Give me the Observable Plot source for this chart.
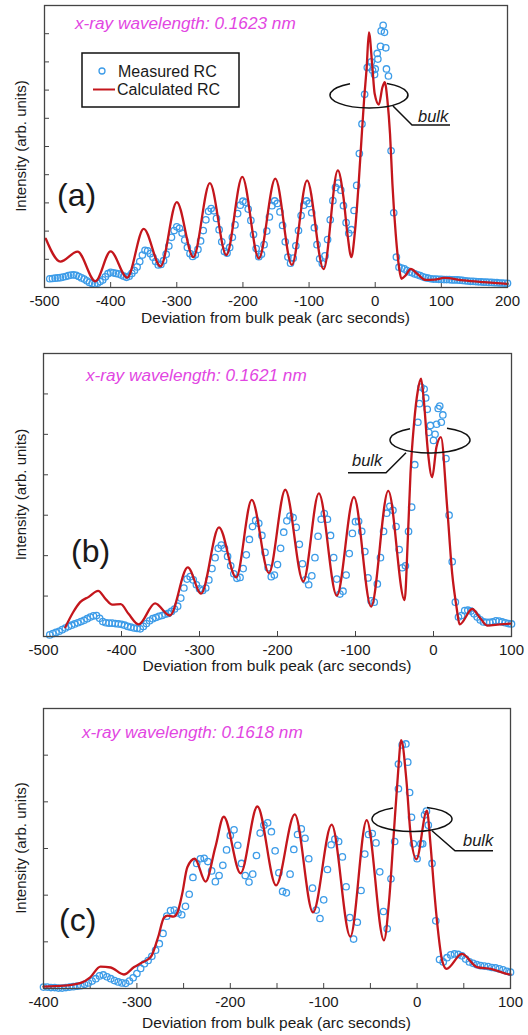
<!DOCTYPE html>
<html><head><meta charset="utf-8">
<script src="https://cdn.jsdelivr.net/npm/d3@7"></script>
<script src="https://cdn.jsdelivr.net/npm/@observablehq/plot@0.6"></script>
<style>
body{margin:0;background:#fff}
#chart{width:528px}
#chart svg{display:block}
</style>
</head><body><div id="chart"></div>
<script>
// ---------------- DATA ----------------
// Panel (a) — x-ray wavelength 0.1623 nm
const measA_start = -492, measA_step = 4;
const measA_y = [0.31,0.32,0.33,0.34,0.35,0.37,0.39,0.42,0.44,0.45,0.43,0.39,0.34,0.30,0.24,0.18,0.14,0.12,0.15,0.21,
0.27,0.38,0.49,0.54,0.52,0.50,0.48,0.44,0.40,0.36,0.40,0.50,0.60,0.73,0.92,1.15,1.32,1.30,1.20,1.07,
0.92,0.80,0.82,0.95,1.18,1.47,1.78,2.02,2.15,2.10,1.93,1.68,1.42,1.20,1.10,1.16,1.35,1.65,2.02,2.40,
2.70,2.80,2.72,2.45,2.05,1.62,1.28,1.22,1.42,1.78,2.22,2.62,2.92,3.06,3.02,2.78,2.38,1.88,1.38,1.09,
1.18,1.52,2.00,2.50,2.90,3.07,2.98,2.68,2.20,1.62,1.08,0.86,1.04,1.48,2.02,2.55,2.92,3.07,2.98,2.65,
2.12,1.52,1.02,0.85,1.12,1.70,2.40,3.08,3.55,3.70,3.45,2.90,2.30,1.92,2.05,2.73,3.62,4.75,5.80,6.85,
7.80,7.82,7.70,7.75,8.10,8.55,9.30,8.50,7.50,4.85,2.65,1.08,0.72,0.69,0.66,0.60,0.55,0.52,0.48,0.45,
0.42,0.38,0.35,0.33,0.31,0.30,0.30,0.29,0.29,0.28,0.28,0.28,0.27,0.27,0.27,0.26,0.25,0.24,0.23,0.22,
0.22,0.21,0.20,0.20,0.19,0.19,0.18,0.18,0.17,0.17,0.16,0.16,0.15,0.15];
const measA_extraX = [-6, -1, 3, 9, 14, 17];
const measA_extraY = [8.0, 7.55, 8.3, 9.1, 9.05, 7.75];
const calcA_x = [-498,-476,-450,-423,-400,-375,-350,-324.5,-300,-275,-250,-225,-201,-176,-151,-126,-103,-78,-56.5,-48,-42,-36,-31,-25.4,-20.9,-16.9,-12.9,-9.5,-4.3,-0.8,5.5,10.9,14.4,18.5,22.4,26,31,36,39.6,46,53.7,63.8,76.4,90,104,134,164,200];
const calcA_y = [1.73,0.92,1.27,0.22,1.28,0.35,2.08,0.75,3.03,1.08,3.70,1.15,3.92,1.03,3.86,0.80,3.80,0.65,4.15,3.2,1.9,1.08,1.9,3.56,5.21,6.63,7.81,9.05,7.81,6.87,6.49,7.1,7.28,6.63,5.45,3.68,1.9,0.72,0.31,0.43,0.66,0.48,0.27,0.28,0.34,0.25,0.19,0.13];
const ticksA_x = [-500,-400,-300,-200,-100,0,100,200];
const ticksA_y = [1,2,3,4,5,6,7,8,9];

// Panel (b) — x-ray wavelength 0.1621 nm
const measB_start = -492, measB_step = 4;
const measB_y = [0.04,0.07,0.10,0.13,0.17,0.21,0.25,0.28,0.31,0.34,0.37,0.40,0.44,0.48,0.51,0.52,0.45,0.37,0.34,0.33,
0.33,0.32,0.31,0.30,0.28,0.25,0.23,0.21,0.20,0.19,0.25,0.32,0.39,0.44,0.47,0.50,0.52,0.55,0.57,0.62,
0.68,0.75,0.95,1.20,1.42,1.48,1.40,1.28,1.18,1.14,1.20,1.40,1.68,1.95,2.18,2.26,2.18,1.98,1.75,1.55,
1.44,1.46,1.68,2.02,2.40,2.72,2.87,2.80,2.50,2.08,1.70,1.48,1.52,1.78,2.18,2.58,2.86,2.98,2.94,2.70,
2.28,1.80,1.40,1.28,1.50,1.95,2.48,2.90,3.04,2.90,2.50,1.95,1.42,1.05,1.12,1.52,2.05,2.55,2.84,2.85,
2.60,2.10,1.45,0.88,0.85,1.30,1.95,2.60,3.05,3.22,3.12,2.72,2.15,1.70,1.75,2.60,3.20,4.25,5.30,6.17,
6.12,5.62,5.22,4.85,5.25,5.70,5.48,4.40,3.00,1.85,0.85,0.48,0.52,0.64,0.65,0.63,0.56,0.48,0.41,0.36,
0.35,0.35,0.36,0.39,0.38,0.36,0.34,0.32,0.31];
const measB_extraX = [-18, -10, -6, 2, 6, 10];
const measB_extraY = [5.76, 5.9, 5.05, 5.0, 5.64, 5.3];
const calcB_x = [-472,-462,-453,-442,-430,-420,-412,-401,-391,-378,-357,-338,-315,-298,-275,-253,-233,-211,-190,-167,-147,-124,-102,-80,-58,-37,-33,-29.5,-25,-20,-16,-12.4,-7.3,-1.7,3.8,9.5,17.5,24,29.5,33.5,49.6,60,69,85,99];
const calcB_y = [0.23,0.6,0.85,0.98,1.13,0.92,0.79,0.80,0.56,0.30,0.82,0.52,1.71,1.06,2.70,1.46,3.38,1.57,3.63,1.36,3.54,1.01,3.45,0.74,3.60,0.90,2.38,4.03,5.26,6.09,6.38,5.84,4.6,3.94,4.69,4.93,3.2,1.55,0.73,0.30,0.68,0.45,0.27,0.30,0.32];
const ticksB_x = [-500,-400,-300,-200,-100,0,100];
const ticksB_y = [1,2,3,4,5,6];

// Panel (c) — x-ray wavelength 0.1618 nm
const measC_start = -400, measC_step = 4;
const measC_y = [0.03,0.03,0.02,0.02,0.01,0.01,0.02,0.03,0.04,0.05,0.06,0.09,0.12,0.16,0.21,0.27,0.29,0.25,0.21,0.17,
0.14,0.12,0.11,0.16,0.23,0.32,0.43,0.53,0.60,0.69,0.82,0.96,1.18,1.55,1.67,1.68,1.62,1.58,1.76,2.02,
2.38,2.68,2.78,2.79,2.72,2.52,2.29,2.42,2.64,2.97,3.28,3.40,3.07,2.68,2.42,2.28,2.45,2.85,3.33,3.50,
3.55,3.36,2.95,2.48,2.08,2.05,2.45,2.98,3.30,3.42,3.22,2.78,2.15,1.68,1.50,1.90,2.55,3.08,3.20,3.15,
2.82,2.18,1.52,1.06,1.42,2.10,2.88,3.30,3.32,3.12,2.50,1.65,1.28,2.35,3.15,4.28,5.22,5.24,4.20,3.10,
2.78,3.10,3.72,3.50,2.68,1.45,0.62,0.57,0.66,0.72,0.74,0.73,0.70,0.63,0.57,0.54,0.51,0.49,0.48,0.47,
0.45,0.44,0.42,0.40,0.37,0.35];
const measC_extraX = [-20, -10, -6, 6, 10];
const measC_extraY = [4.81, 4.85, 3.67, 3.1, 3.8];
const calcC_x = [-400,-378,-360,-350,-339,-328,-314,-303,-296,-285,-277,-271,-267,-261,-257,-251.5,-246,-238,-226.5,-216,-207,-189,-171,-151,-131,-111.5,-91.5,-71.5,-54,-35.5,-30,-25,-21,-17,-11.4,-7,-0.7,10.5,14.3,18,22,26.8,31.5,48,64,79,97,100];
const calcC_y = [0.04,0.06,0.12,0.24,0.47,0.45,0.30,0.46,0.54,0.68,1.12,1.52,1.56,1.54,1.61,2.03,2.60,2.78,2.29,3.03,3.68,2.47,3.90,2.21,3.73,1.63,3.51,1.11,3.61,1.03,1.88,3.31,4.45,5.32,4.45,3.31,2.77,3.81,3.10,2.17,1.31,0.6,0.42,0.74,0.46,0.42,0.31,0.30];
const ticksC_x = [-400,-300,-200,-100,0,100];
const ticksC_xMinor = [-350,-300,-250,-200,-150,-100,-50,0,50];
const ticksC_y = [1,2,3,4,5];

const wavelengths = ["x-ray wavelength: 0.1623 nm","x-ray wavelength: 0.1621 nm","x-ray wavelength: 0.1618 nm"];
const panelLetters = ["(a)","(b)","(c)"];
const seriesNames = ["Measured RC","Calculated RC"];
const xTitle = "Deviation from bulk peak (arc seconds)";
const yTitle = "Intensity (arb. units)";

// ---------------- DRAWING ----------------
const FONT = "'Liberation Sans', Arial, Helvetica, sans-serif";
const BLUE = "#3d9ce8", RED = "#c4161c", INK = "#1a1a1a";

function rows(xs, ys){ return xs.map((x,i)=>({x, y: ys[i]})); }
function gridRows(start, step, ys){ return ys.map((y,i)=>({x: start + i*step, y})); }

function panel(cfg){
  const W = 528;
  const innerH = cfg.height - cfg.mt - cfg.mb;
  const innerW = W - cfg.ml - cfg.mr;
  const meas = gridRows(cfg.mStart, cfg.mStep, cfg.mY).concat(rows(cfg.eX, cfg.eY));
  const calc = rows(cfg.cX, cfg.cY);
  const plot = Plot.plot({
    width: W, height: cfg.height,
    marginTop: cfg.mt, marginBottom: cfg.mb, marginLeft: cfg.ml, marginRight: cfg.mr,
    style: {fontFamily: FONT, fontSize: "15px", color: INK, background: "#fff", overflow: "visible"},
    x: {domain: cfg.xDomain, ticks: cfg.xTicks, tickSize: 0, tickPadding: 8, tickFormat: d => String(d), label: null},
    y: {domain: cfg.yDomain, axis: null},
    marks: [
      Plot.ruleX(cfg.xTicksIn, {x: d => d, insetTop: innerH - 5, stroke: "#444", strokeWidth: 1}),
      Plot.ruleY(cfg.yTicks, {y: d => d, insetRight: innerW - 5, stroke: "#444", strokeWidth: 1}),
      Plot.dot(meas, {x: "x", y: "y", r: 3.2, stroke: BLUE, strokeWidth: 1.3, fill: "none"}),
      Plot.line(calc, {x: "x", y: "y", stroke: RED, strokeWidth: 2.3, curve: "monotone-x"}),
      Plot.frame({stroke: "#444", strokeWidth: 1.3})
    ]
  });
  const svg = d3.select(plot);
  const g = svg.append("g").attr("font-family", FONT).attr("fill", INK).attr("text-anchor", "start");
  // axis titles
  g.append("text").attr("x", cfg.ml + innerW/2).attr("y", cfg.height - cfg.mb + cfg.xTitleDy)
    .attr("text-anchor", "middle").attr("font-size", 15.5).text(xTitle);
  g.append("text").attr("transform", `translate(21,${cfg.mt + innerH/2}) rotate(-90)`)
    .attr("text-anchor", "middle").attr("dy", "0.35em").attr("font-size", 15).text(yTitle);
  // panel letter
  g.append("text").attr("x", cfg.letter[0]).attr("y", cfg.letter[1]).attr("font-size", 32).text(cfg.letterText);
  // wavelength
  g.append("text").attr("x", cfg.wave[0]).attr("y", cfg.wave[1]).attr("font-size", 17.2)
    .attr("font-style", "italic").attr("fill", "#e246e2").text(cfg.waveText);
  // bulk annotation
  const e = cfg.ell;
  const yAt = x => e.cy - e.ry*Math.sqrt(Math.max(0, 1 - ((x - e.cx)/e.rx)**2));
  g.append("path").attr("d", `M${e.g0},${yAt(e.g0)} A${e.rx},${e.ry} 0 1 0 ${e.g1},${yAt(e.g1)}`)
    .attr("fill", "none").attr("stroke", "#111").attr("stroke-width", 1.5);
  g.append("path").attr("d", "M" + cfg.leader.map(p => p.join(",")).join(" L"))
    .attr("fill", "none").attr("stroke", "#111").attr("stroke-width", 1.5);
  g.append("text").attr("x", cfg.bulk[0]).attr("y", cfg.bulk[1]).attr("font-size", 16.5)
    .attr("font-style", "italic").text("bulk");
  if (cfg.legend) {
    const L = g.append("g");
    L.append("rect").attr("x", 82).attr("y", 53).attr("width", 157).attr("height", 54)
      .attr("fill", "#fff").attr("stroke", "#111").attr("stroke-width", 1.5);
    L.append("circle").attr("cx", 102).attr("cy", 71).attr("r", 3).attr("fill", "none")
      .attr("stroke", BLUE).attr("stroke-width", 1.3);
    L.append("text").attr("x", 118).attr("y", 76.5).attr("font-size", 16).text(seriesNames[0]);
    L.append("line").attr("x1", 93).attr("x2", 115).attr("y1", 89.5).attr("y2", 89.5)
      .attr("stroke", RED).attr("stroke-width", 2);
    L.append("text").attr("x", 117).attr("y", 95).attr("font-size", 16).text(seriesNames[1]);
  }
  return plot;
}

const root = document.getElementById("chart");
root.append(panel({
  height: 330, mt: 5, mb: 43, ml: 44, mr: 21,
  xDomain: [-500, 200], yDomain: [0, 10],
  xTicks: ticksA_x, xTicksIn: ticksA_x.slice(1, -1), yTicks: ticksA_y,
  mStart: measA_start, mStep: measA_step, mY: measA_y, eX: measA_extraX, eY: measA_extraY,
  cX: calcA_x, cY: calcA_y, xTitleDy: 36,
  letter: [57, 206], letterText: panelLetters[0],
  wave: [75, 29], waveText: wavelengths[0],
  ell: {cx: 369, cy: 95, rx: 39, ry: 13, g0: 350, g1: 387},
  leader: [[393, 106], [412, 125], [450, 125]],
  bulk: [418, 121.5],
  legend: true
}));
root.append(panel({
  height: 350, mt: 23, mb: 44, ml: 43, mr: 17,
  xDomain: [-500, 100], yDomain: [0, 7],
  xTicks: ticksB_x, xTicksIn: ticksB_x.slice(1, -1), yTicks: ticksB_y,
  mStart: measB_start, mStep: measB_step, mY: measB_y, eX: measB_extraX, eY: measB_extraY,
  cX: calcB_x, cY: calcB_y, xTitleDy: 35,
  letter: [71, 232], letterText: panelLetters[1],
  wave: [86, 51], waveText: wavelengths[1],
  ell: {cx: 430, cy: 110, rx: 40, ry: 13, g0: 410, g1: 447},
  leader: [[406, 122.7], [386, 142.7], [348, 142.7]],
  bulk: [352, 136],
  legend: false
}));
root.append(panel({
  height: 355, mt: 28, mb: 47, ml: 43, mr: 18,
  xDomain: [-400, 100], yDomain: [0, 6],
  xTicks: ticksC_x, xTicksIn: ticksC_xMinor, yTicks: ticksC_y,
  mStart: measC_start, mStep: measC_step, mY: measC_y, eX: measC_extraX, eY: measC_extraY,
  cX: calcC_x, cY: calcC_y, xTitleDy: 40,
  letter: [59, 251], letterText: panelLetters[2],
  wave: [82, 58], waveText: wavelengths[2],
  ell: {cx: 412, cy: 139, rx: 40, ry: 12.5, g0: 393, g1: 427},
  leader: [[432, 150.7], [455, 170.7], [493, 170.7]],
  bulk: [463, 166],
  legend: false
}));
</script>
</body></html>
